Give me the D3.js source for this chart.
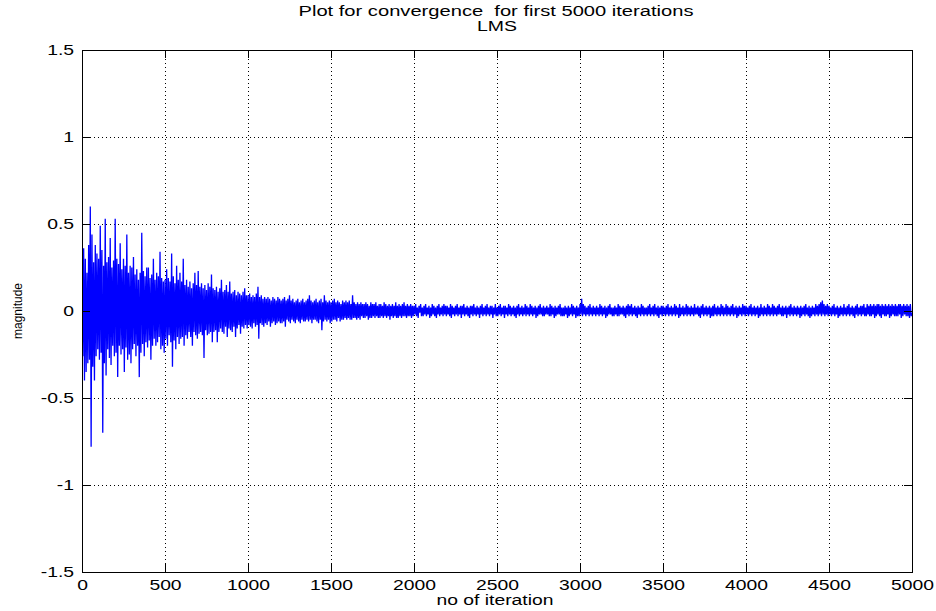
<!DOCTYPE html>
<html><head><meta charset="utf-8">
<script src="https://cdn.jsdelivr.net/npm/d3@7"></script>
<style>
body{margin:0;background:#fff}
svg{display:block;background:#fff}
text{font-family:"Liberation Sans",Arial,Helvetica,sans-serif;fill:#000}
</style>
</head><body>
<svg id="chart" width="936" height="611"></svg>
<script>
// ---- text ----
const titleLines = ["Plot for convergence  for first 5000 iterations", "LMS"];
const xLabel = "no of iteration";
const yLabel = "magnitude";

// ---- ticks ----
const xTicks = [0, 500, 1000, 1500, 2000, 2500, 3000, 3500, 4000, 4500, 5000];
const xTickLabels = ["0", "500", "1000", "1500", "2000", "2500", "3000", "3500", "4000", "4500", "5000"];
const yTicks = [-1.5, -1, -0.5, 0, 0.5, 1, 1.5];
const yTickLabels = ["-1.5", "-1", "-0.5", "0", "0.5", "1", "1.5"];

// ---- series: error magnitude, one reading every 5 iterations ----
const iterationStep = 5;
const magnitude0to1000 = [
  0.40, -0.26, 0.36, -0.40, 0.30, -0.35, 0.22, -0.30, 0.38, -0.28, 0.60, -0.78, 0.44, -0.32, 0.28, -0.40, 0.38, -0.26, 0.33, -0.22,
  0.30, -0.28, 0.49, -0.24, 0.35, -0.70, 0.26, -0.30, 0.53, -0.37, 0.28, -0.22, 0.31, -0.27, 0.42, -0.31, 0.25, -0.20, 0.29, -0.26,
  0.53, -0.24, 0.30, -0.38, 0.27, -0.20, 0.39, -0.25, 0.24, -0.22, 0.30, -0.35, 0.26, -0.21, 0.44, -0.28, 0.22, -0.25, 0.26, -0.30,
  0.25, -0.22, 0.31, -0.19, 0.21, -0.26, 0.24, -0.20, 0.18, -0.38, 0.22, -0.24, 0.45, -0.19, 0.23, -0.26, 0.20, -0.18, 0.25, -0.21,
  0.25, -0.17, 0.19, -0.28, 0.21, -0.20, 0.30, -0.16, 0.18, -0.20, 0.22, -0.18, 0.20, -0.15, 0.34, -0.22, 0.19, -0.20, 0.17, -0.24,
  0.18, -0.16, 0.24, -0.20, 0.19, -0.14, 0.17, -0.18, 0.33, -0.32, 0.20, -0.17, 0.16, -0.22, 0.26, -0.15, 0.18, -0.19, 0.22, -0.16,
  0.17, -0.15, 0.30, -0.20, 0.15, -0.14, 0.18, -0.16, 0.14, -0.12, 0.17, -0.15, 0.13, -0.20, 0.16, -0.12, 0.22, -0.14, 0.15, -0.16,
  0.23, -0.13, 0.14, -0.12, 0.16, -0.14, 0.13, -0.27, 0.15, -0.11, 0.12, -0.14, 0.16, -0.13, 0.14, -0.12, 0.21, -0.18, 0.13, -0.12,
  0.12, -0.11, 0.14, -0.18, 0.11, -0.12, 0.13, -0.10, 0.18, -0.12, 0.11, -0.13, 0.12, -0.09, 0.15, -0.15, 0.11, -0.10, 0.17, -0.11,
  0.10, -0.12, 0.11, -0.09, 0.12, -0.15, 0.09, -0.10, 0.11, -0.08, 0.10, -0.13, 0.09, -0.09, 0.11, -0.10, 0.13, -0.08, 0.09, -0.10
];
const magnitude1000to2000 = [
  0.09, -0.08, 0.10, -0.09, 0.08, -0.10, 0.09, -0.07, 0.08, -0.09, 0.10, -0.08, 0.14, -0.16, 0.08, -0.07, 0.09, -0.08, 0.07, -0.09,
  0.08, -0.07, 0.07, -0.08, 0.08, -0.06, 0.07, -0.09, 0.06, -0.07, 0.08, -0.06, 0.07, -0.08, 0.06, -0.07, 0.08, -0.06, 0.07, -0.07,
  0.06, -0.07, 0.07, -0.06, 0.08, -0.09, 0.06, -0.05, 0.07, -0.06, 0.09, -0.07, 0.06, -0.05, 0.07, -0.06, 0.05, -0.07, 0.06, -0.05,
  0.07, -0.06, 0.05, -0.07, 0.06, -0.05, 0.07, -0.06, 0.05, -0.06, 0.06, -0.05, 0.07, -0.06, 0.09, -0.05, 0.06, -0.07, 0.05, -0.05,
  0.06, -0.05, 0.07, -0.06, 0.05, -0.07, 0.06, -0.05, 0.07, -0.11, 0.05, -0.06, 0.09, -0.05, 0.06, -0.06, 0.05, -0.05, 0.06, -0.07,
  0.05, -0.06, 0.06, -0.05, 0.07, -0.05, 0.05, -0.06, 0.06, -0.04, 0.05, -0.06, 0.04, -0.05, 0.06, -0.05, 0.05, -0.04, 0.06, -0.05,
  0.05, -0.04, 0.06, -0.05, 0.04, -0.05, 0.09, -0.04, 0.05, -0.04, 0.04, -0.05, 0.05, -0.04, 0.04, -0.05, 0.05, -0.03, 0.04, -0.04,
  0.04, -0.04, 0.05, -0.03, 0.04, -0.05, 0.03, -0.04, 0.05, -0.04, 0.04, -0.03, 0.04, -0.04, 0.05, -0.03, 0.03, -0.04, 0.04, -0.04,
  0.04, -0.03, 0.03, -0.04, 0.05, -0.03, 0.04, -0.04, 0.03, -0.03, 0.04, -0.05, 0.03, -0.03, 0.04, -0.04, 0.03, -0.03, 0.05, -0.04,
  0.03, -0.04, 0.04, -0.03, 0.03, -0.04, 0.04, -0.03, 0.05, -0.03, 0.03, -0.04, 0.04, -0.03, 0.03, -0.03, 0.04, -0.04, 0.03, -0.03
];
const magnitude2000to5000 = [
  0.03, -0.02, 0.04, -0.03, 0.02, -0.04, 0.03, -0.01, 0.04, -0.03, 0.02, -0.03, 0.03, -0.02, 0.04, -0.03, 0.02, -0.02, 0.03, -0.04,
  0.02, -0.03, 0.04, -0.02, 0.03, -0.03, 0.02, -0.04, 0.03, -0.02, 0.04, -0.03, 0.02, -0.02, 0.03, -0.03, 0.04, -0.02, 0.03, -0.03,
  0.03, -0.02, 0.02, -0.03, 0.04, -0.04, 0.03, -0.02, 0.02, -0.03, 0.03, -0.02, 0.04, -0.03, 0.02, -0.02, 0.03, -0.04, 0.03, -0.02,
  0.04, -0.03, 0.02, -0.02, 0.03, -0.03, 0.02, -0.04, 0.03, -0.02, 0.03, -0.03, 0.04, -0.02, 0.02, -0.03, 0.03, -0.02, 0.02, -0.04,
  0.03, -0.02, 0.04, -0.03, 0.02, -0.02, 0.03, -0.03, 0.04, -0.02, 0.02, -0.03, 0.03, -0.02, 0.03, -0.04, 0.02, -0.02, 0.04, -0.03,
  0.02, -0.03, 0.03, -0.02, 0.04, -0.03, 0.02, -0.02, 0.03, -0.04, 0.03, -0.02, 0.02, -0.03, 0.04, -0.02, 0.03, -0.03, 0.02, -0.02,
  0.03, -0.03, 0.02, -0.04, 0.03, -0.02, 0.04, -0.03, 0.02, -0.02, 0.03, -0.03, 0.02, -0.02, 0.04, -0.03, 0.03, -0.02, 0.02, -0.03,
  0.04, -0.02, 0.03, -0.03, 0.02, -0.02, 0.03, -0.04, 0.02, -0.03, 0.03, -0.02, 0.04, -0.02, 0.02, -0.03, 0.03, -0.03, 0.02, -0.02,
  0.03, -0.02, 0.02, -0.03, 0.04, -0.03, 0.03, -0.02, 0.02, -0.04, 0.03, -0.03, 0.02, -0.02, 0.03, -0.02, 0.04, -0.03, 0.02, -0.03,
  0.02, -0.03, 0.03, -0.02, 0.02, -0.04, 0.03, -0.03, 0.02, -0.02, 0.04, -0.03, 0.03, -0.02, 0.02, -0.04, 0.03, -0.03, 0.02, -0.03,
  0.04, -0.02, 0.07, -0.03, 0.04, -0.02, 0.03, -0.03, 0.02, -0.02, 0.03, -0.03, 0.04, -0.02, 0.02, -0.03, 0.03, -0.02, 0.02, -0.03,
  0.03, -0.02, 0.02, -0.03, 0.04, -0.02, 0.03, -0.03, 0.02, -0.02, 0.03, -0.04, 0.02, -0.03, 0.03, -0.02, 0.04, -0.02, 0.02, -0.03,
  0.02, -0.03, 0.03, -0.02, 0.02, -0.03, 0.04, -0.03, 0.03, -0.02, 0.02, -0.02, 0.03, -0.03, 0.02, -0.04, 0.03, -0.02, 0.04, -0.03,
  0.03, -0.02, 0.04, -0.03, 0.02, -0.02, 0.03, -0.03, 0.02, -0.04, 0.03, -0.02, 0.02, -0.03, 0.04, -0.02, 0.03, -0.03, 0.02, -0.02,
  0.02, -0.03, 0.03, -0.02, 0.04, -0.03, 0.02, -0.02, 0.03, -0.03, 0.04, -0.02, 0.02, -0.03, 0.03, -0.04, 0.02, -0.02, 0.03, -0.03,
  0.03, -0.02, 0.02, -0.03, 0.03, -0.02, 0.04, -0.03, 0.02, -0.02, 0.03, -0.03, 0.02, -0.02, 0.04, -0.03, 0.03, -0.02, 0.02, -0.04,
  0.04, -0.03, 0.02, -0.02, 0.03, -0.03, 0.02, -0.02, 0.04, -0.03, 0.03, -0.02, 0.02, -0.03, 0.03, -0.02, 0.02, -0.03, 0.04, -0.02,
  0.02, -0.02, 0.03, -0.03, 0.02, -0.04, 0.03, -0.02, 0.04, -0.03, 0.02, -0.02, 0.03, -0.03, 0.02, -0.02, 0.03, -0.04, 0.02, -0.03,
  0.03, -0.03, 0.04, -0.02, 0.02, -0.03, 0.03, -0.02, 0.02, -0.03, 0.04, -0.02, 0.03, -0.03, 0.02, -0.02, 0.04, -0.03, 0.03, -0.02,
  0.02, -0.03, 0.03, -0.02, 0.04, -0.03, 0.02, -0.02, 0.03, -0.04, 0.02, -0.03, 0.03, -0.02, 0.02, -0.03, 0.04, -0.02, 0.03, -0.03,
  0.03, -0.02, 0.02, -0.03, 0.03, -0.02, 0.04, -0.03, 0.02, -0.02, 0.03, -0.03, 0.02, -0.02, 0.03, -0.04, 0.02, -0.03, 0.04, -0.02,
  0.02, -0.03, 0.03, -0.02, 0.02, -0.03, 0.04, -0.02, 0.03, -0.03, 0.02, -0.02, 0.04, -0.03, 0.03, -0.02, 0.02, -0.03, 0.03, -0.02,
  0.04, -0.02, 0.02, -0.03, 0.03, -0.03, 0.02, -0.02, 0.03, -0.04, 0.02, -0.02, 0.03, -0.03, 0.04, -0.02, 0.02, -0.03, 0.03, -0.02,
  0.02, -0.03, 0.03, -0.02, 0.02, -0.04, 0.03, -0.03, 0.02, -0.02, 0.03, -0.03, 0.04, -0.02, 0.02, -0.03, 0.03, -0.04, 0.02, -0.03,
  0.03, -0.02, 0.02, -0.03, 0.04, -0.02, 0.03, -0.03, 0.04, -0.02, 0.05, -0.03, 0.06, -0.02, 0.04, -0.03, 0.03, -0.02, 0.04, -0.03,
  0.03, -0.02, 0.02, -0.03, 0.03, -0.02, 0.04, -0.03, 0.02, -0.02, 0.03, -0.04, 0.02, -0.03, 0.03, -0.02, 0.02, -0.03, 0.04, -0.02,
  0.02, -0.03, 0.03, -0.02, 0.04, -0.03, 0.02, -0.02, 0.03, -0.03, 0.02, -0.04, 0.03, -0.02, 0.04, -0.03, 0.02, -0.02, 0.03, -0.03,
  0.03, -0.02, 0.04, -0.03, 0.02, -0.03, 0.04, -0.02, 0.03, -0.03, 0.04, -0.03, 0.03, -0.02, 0.04, -0.04, 0.03, -0.03, 0.04, -0.02,
  0.04, -0.03, 0.03, -0.04, 0.04, -0.02, 0.03, -0.03, 0.04, -0.03, 0.03, -0.02, 0.04, -0.04, 0.03, -0.03, 0.04, -0.02, 0.03, -0.03,
  0.04, -0.03, 0.03, -0.03, 0.04, -0.02, 0.04, -0.04, 0.03, -0.03, 0.04, -0.02, 0.03, -0.03, 0.04, -0.03, 0.03, -0.04, 0.04, -0.03,
  -0.01
];
const magnitude = magnitude0to1000.concat(magnitude1000to2000, magnitude2000to5000);

// ---- layout ----
const svg = d3.select("#chart");
const L = 82, R = 912, T = 50, B = 572;
const SX = 1.38; // horizontal stretch of the original figure's lettering

const x = d3.scaleLinear().domain([0, 5000]).range([L, R]);
const y = d3.scaleLinear().domain([-1.5, 1.5]).range([B, T]);

// grid (dotted)
const gridStyle = g => {
  g.select(".domain").remove();
  g.selectAll("line").attr("stroke", "#000").attr("stroke-width", 1)
    .attr("stroke-dasharray", "1,3").attr("shape-rendering", "crispEdges");
};
svg.append("g").attr("transform", `translate(0,${B})`)
  .call(d3.axisBottom(x).tickValues(xTicks.slice(1, -1)).tickSize(-(B - T)).tickFormat(""))
  .call(gridStyle);
svg.append("g").attr("transform", `translate(${L},0)`)
  .call(d3.axisLeft(y).tickValues(yTicks.slice(1, -1)).tickSize(-(R - L)).tickFormat(""))
  .call(gridStyle);

// data line
svg.append("clipPath").attr("id", "plotClip")
  .append("rect").attr("x", L).attr("y", T).attr("width", R - L).attr("height", B - T);
const line = d3.line()
  .x((d, i) => x(i * iterationStep))
  .y(d => y(d));
svg.append("path")
  .datum(magnitude)
  .attr("clip-path", "url(#plotClip)")
  .attr("fill", "none")
  .attr("stroke", "#0000ff")
  .attr("stroke-width", 1.3)
  .attr("stroke-linejoin", "miter")
  .attr("d", line);

// axes with inward ticks
const tickStyle = g => {
  g.select(".domain").remove();
  g.selectAll("line").attr("stroke", "#000").attr("shape-rendering", "crispEdges");
};
const xb = svg.append("g").attr("transform", `translate(0,${B})`)
  .call(d3.axisBottom(x).tickValues(xTicks).tickSize(-8).tickPadding(8)
    .tickFormat((d, i) => xTickLabels[i]))
  .call(tickStyle);
xb.selectAll("text").attr("font-size", 14).attr("fill", "#000")
  .attr("font-family", "'Liberation Sans', Arial, sans-serif")
  .attr("transform", `scale(${SX},1)`);

svg.append("g").attr("transform", `translate(0,${T})`)
  .call(d3.axisTop(x).tickValues(xTicks).tickSize(-8).tickFormat(""))
  .call(tickStyle);

const yl = svg.append("g").attr("transform", `translate(${L},0)`)
  .call(d3.axisLeft(y).tickValues(yTicks).tickSize(-8).tickPadding(8)
    .tickFormat((d, i) => yTickLabels[i]))
  .call(tickStyle);
yl.selectAll("text").attr("font-size", 14).attr("fill", "#000")
  .attr("font-family", "'Liberation Sans', Arial, sans-serif")
  .attr("x", -8 / SX)
  .attr("transform", `scale(${SX},1)`);

svg.append("g").attr("transform", `translate(${R},0)`)
  .call(d3.axisRight(y).tickValues(yTicks).tickSize(-8).tickFormat(""))
  .call(tickStyle);

// box
svg.append("rect")
  .attr("x", L + 0.5).attr("y", T + 0.5)
  .attr("width", R - L).attr("height", B - T)
  .attr("fill", "none").attr("stroke", "#000").attr("stroke-width", 1)
  .attr("shape-rendering", "crispEdges");

// title
svg.append("text")
  .attr("x", (L + R) / 2 - 1).attr("y", 16)
  .attr("text-anchor", "middle").attr("font-size", 14)
  .style("white-space", "pre")
  .attr("textLength", 395).attr("lengthAdjust", "spacingAndGlyphs")
  .text(titleLines[0]);
svg.append("text")
  .attr("x", (L + R) / 2).attr("y", 31)
  .attr("text-anchor", "middle").attr("font-size", 14)
  .attr("textLength", 40).attr("lengthAdjust", "spacingAndGlyphs")
  .text(titleLines[1]);

// axis labels
svg.append("text")
  .attr("x", (L + R) / 2 - 2).attr("y", 605)
  .attr("text-anchor", "middle").attr("font-size", 14)
  .attr("textLength", 117).attr("lengthAdjust", "spacingAndGlyphs")
  .text(xLabel);
svg.append("text")
  .attr("transform", `translate(22,${(T + B) / 2}) rotate(-90)`)
  .attr("text-anchor", "middle").attr("font-size", 12)
  .text(yLabel);
</script>
</body></html>
